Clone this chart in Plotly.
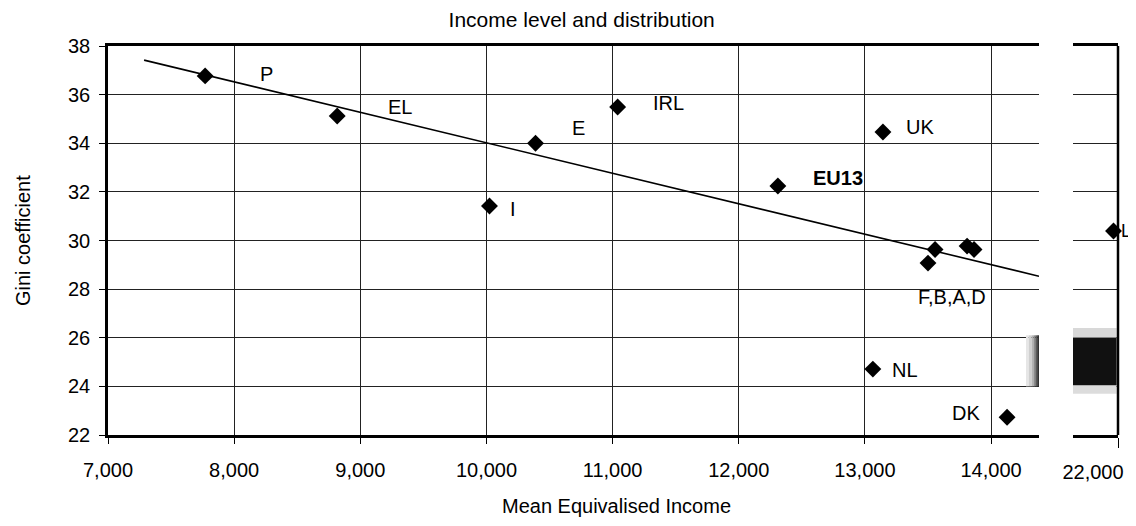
import plotly.graph_objects as go

# ---- data ----
countries = ["P", "EL", "E", "IRL", "I", "EU13", "UK", "F", "B", "A", "D", "NL", "DK"]
mean_income = [7770, 8817, 10389, 11040, 10024, 12310, 13143, 13556, 13500, 13810, 13865, 13063, 14127]
gini = [36.77, 35.12, 34.00, 35.49, 31.42, 32.24, 34.46, 29.63, 29.07, 29.77, 29.63, 24.71, 22.73]

lux_label = ["L"]
lux_income = [21985]
lux_gini = [30.39]

trend_x = [7286, 14380]
trend_y = [37.42, 28.53]

label_text = ["P", "EL", "E", "IRL", "I", "<b>EU13</b>", "UK", "F,B,A,D", "NL", "DK"]
label_x = [8260, 9315, 10726, 11440, 10211, 12787, 13437, 13691, 13318, 13802]
label_y = [36.85, 35.49, 34.63, 35.65, 31.29, 32.57, 34.67, 27.67, 24.67, 22.90]

main_ticks = [7000, 8000, 9000, 10000, 11000, 12000, 13000, 14000]
break_ticks = [22000]
y_ticks = [22, 24, 26, 28, 30, 32, 34, 36, 38]

FONT = "Liberation Sans, Arial, sans-serif"
# page body adds an 8px offset; figure sized so the plot area lands where the reference has it
W, H = 1128, 518
L, R, T, B = 100, 18, 38, 91

fig = go.Figure()
fig.add_trace(go.Scatter(x=trend_x, y=trend_y, mode="lines",
                         line=dict(color="black", width=1.6), xaxis="x", yaxis="y",
                         hoverinfo="skip"))
fig.add_trace(go.Scatter(x=mean_income, y=gini, mode="markers", text=countries,
                         marker=dict(symbol="diamond", size=13, color="black"),
                         xaxis="x", yaxis="y"))
fig.add_trace(go.Scatter(x=lux_income, y=lux_gini, mode="markers", text=lux_label,
                         marker=dict(symbol="diamond", size=13, color="black"),
                         xaxis="x2", yaxis="y", cliponaxis=False))

annotations = []
for t, x, y in zip(label_text, label_x, label_y):
    annotations.append(dict(x=x, y=y, xref="x", yref="y", text=t, showarrow=False,
                            font=dict(family=FONT, size=20, color="black"),
                            xanchor="center", yanchor="middle"))
annotations.append(dict(x=lux_income[0], y=lux_gini[0], xref="x2", yref="y", text=lux_label[0],
                        showarrow=False, xanchor="left", yanchor="middle", xshift=5,
                        font=dict(family=FONT, size=18, color="black")))
annotations.append(dict(x=0.503, y=-0.1825, xref="paper", yref="paper",
                        text="Mean Equivalised Income", showarrow=False,
                        xanchor="center", yanchor="middle",
                        font=dict(family=FONT, size=20, color="black")))
annotations.append(dict(x=-0.0842, y=0.501, xref="paper", yref="paper",
                        text="Gini coefficient", showarrow=False, textangle=-90,
                        xanchor="center", yanchor="middle",
                        font=dict(family=FONT, size=20, color="black")))

shapes = []
# axis-break shading (scan artefact) in main panel: gradient towards the right edge
grays = ["#e6e6e6", "#cfcfcf", "#b3b3b3", "#8c8c8c", "#5a5a5a", "#333333"]
x_edges = [0.986, 0.989, 0.992, 0.994, 0.996, 0.998, 1.0]
for i, g in enumerate(grays):
    shapes.append(dict(type="rect", xref="x domain", yref="y",
                       x0=x_edges[i], x1=x_edges[i + 1], y0=24.0, y1=26.1,
                       fillcolor=g, line=dict(width=0), layer="above"))
# shading in the break panel
shapes.append(dict(type="rect", xref="x2 domain", yref="y", x0=0, x1=0.97, y0=26.0, y1=26.4,
                   fillcolor="#d8d8d8", line=dict(width=0), layer="above"))
shapes.append(dict(type="rect", xref="x2 domain", yref="y", x0=0, x1=0.97, y0=23.7, y1=24.05,
                   fillcolor="#dcdcdc", line=dict(width=0), layer="above"))
shapes.append(dict(type="rect", xref="x2 domain", yref="y", x0=0, x1=0.97, y0=24.05, y1=26.0,
                   fillcolor="#111111", line=dict(width=0), layer="above"))
# right border of break panel
shapes.append(dict(type="line", xref="x2 domain", yref="y", x0=1, x1=1, y0=22, y1=38,
                   line=dict(color="black", width=2.5), layer="above"))

tickfont = dict(family=FONT, size=20, color="black")
main_end = (1039 - 108) / (1118 - 108)
brk_start = (1073 - 108) / (1118 - 108)

fig.update_layout(
    width=W, height=H,
    margin=dict(l=L, r=R, t=T, b=B, pad=0),
    paper_bgcolor="white", plot_bgcolor="white",
    showlegend=False,
    title=dict(text="Income level and distribution", x=0.469, xref="paper",
               y=1 - 11.5 / H, yref="container", xanchor="center", yanchor="middle",
               font=dict(family=FONT, size=21, color="black")),
    xaxis=dict(domain=[0, main_end], range=[7000, 14380], tickvals=main_ticks,
               tickformat=",", showgrid=True, gridcolor="#222222", gridwidth=1,
               zeroline=False, showline=True, linecolor="black", linewidth=2.5,
               mirror=True, ticks="outside", ticklen=6, tickcolor="black",
               ticklabelstandoff=9, tickfont=tickfont, anchor="y"),
    xaxis2=dict(domain=[brk_start, 1], range=[21850, 22000], tickvals=break_ticks,
                tickformat=",", showgrid=False, zeroline=False, showline=True,
                linecolor="black", linewidth=2.5, mirror=True, ticks="outside",
                ticklen=10, tickcolor="black", ticklabelstandoff=7,
                ticklabelshift=-25, ticklabeloverflow="allow",
                tickfont=tickfont, anchor="y"),
    yaxis=dict(range=[22, 38], tickvals=y_ticks, showgrid=True, gridcolor="#222222",
               gridwidth=1, zeroline=False, showline=True, linecolor="black",
               linewidth=2.5, ticks="outside", ticklen=6, tickcolor="black",
               ticklabelstandoff=5, tickfont=tickfont),
    annotations=annotations,
    shapes=shapes,
)

fig.write_html("out.html")
